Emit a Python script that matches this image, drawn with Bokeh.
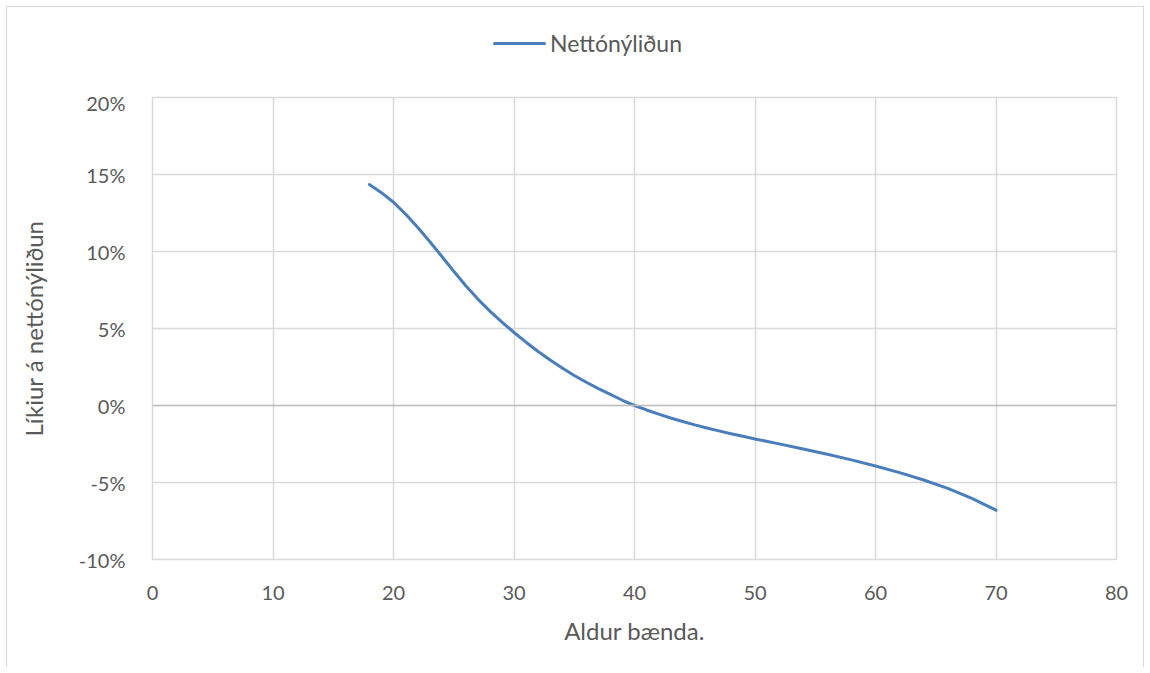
from bokeh.plotting import figure
from bokeh.models import (FixedTicker, NumeralTickFormatter, Span, Range1d, Div)
from bokeh.layouts import column
from bokeh.embed import file_html
from bokeh.resources import INLINE

ages = [18, 19, 20, 21, 22, 23, 24, 25, 26, 27, 28, 29, 30, 31, 32, 33, 34, 35, 36, 37,
        38, 39, 40, 41, 42, 43, 44, 45, 46, 47, 48, 49, 50, 52, 54, 56, 58, 60, 62, 64,
        66, 68, 70]
nettonylidun = [14.35, 13.82, 13.2, 12.43, 11.57, 10.65, 9.69, 8.72, 7.78, 6.91, 6.13,
                5.42, 4.74, 4.11, 3.51, 2.95, 2.43, 1.95, 1.51, 1.1, 0.72, 0.34, 0.0,
                -0.29, -0.56, -0.81, -1.04, -1.26, -1.46, -1.65, -1.83, -2.0, -2.17,
                -2.49, -2.82, -3.16, -3.53, -3.93, -4.36, -4.84, -5.38, -6.03, -6.8]
x_ticks = [0, 10, 20, 30, 40, 50, 60, 70, 80]
y_ticks = [-0.10, -0.05, 0.0, 0.05, 0.10, 0.15, 0.20]

series_name = "Nettónýliðun"
x_title = "Aldur bænda."
y_title = "Líkiur á nettónýliðun"

FONT = "Lato"
TXT = "#595959"
GRID = "#d9d9d9"
LINE = "#4a7ebb"

p = figure(width=1136, height=577, output_backend="svg", toolbar_location=None,
           x_range=Range1d(0, 80), y_range=Range1d(-0.10, 0.20),
           min_border_left=145, min_border_right=27, min_border_top=7,
           min_border_bottom=108, margin=0)

yvals = [v / 100 for v in nettonylidun]
r = p.line(ages, yvals, line_color=LINE, line_width=3, line_cap="round", line_join="round")

p.xaxis.ticker = FixedTicker(ticks=x_ticks)
p.yaxis.ticker = FixedTicker(ticks=y_ticks)
p.yaxis.formatter = NumeralTickFormatter(format="0%")

for ax in (p.xaxis[0], p.yaxis[0]):
    ax.axis_line_color = None
    ax.major_tick_line_color = None
    ax.minor_tick_line_color = None
    ax.major_label_text_font = FONT
    ax.major_label_text_font_size = "20px"
    ax.major_label_text_color = TXT
    ax.axis_label_text_font = FONT
    ax.axis_label_text_font_size = "24px"
    ax.axis_label_text_color = TXT
    ax.axis_label_text_font_style = "normal"

p.xaxis.axis_label = x_title
p.yaxis.axis_label = y_title
p.xaxis.major_label_standoff = 20
p.yaxis.major_label_standoff = 21
p.xaxis.axis_label_standoff = 13
p.yaxis.axis_label_standoff = 28

p.xgrid.grid_line_color = GRID
p.ygrid.grid_line_color = GRID
p.xgrid.grid_line_width = 1.5
p.ygrid.grid_line_width = 1.5
p.outline_line_color = GRID
p.outline_line_width = 1.5

p.add_layout(Span(location=0, dimension="width", line_color="#bfbfbf", line_width=1.5))
p.renderers.remove(r)
p.renderers.append(r)

legend_html = (
    '<div style="position:relative;width:1136px;height:83px;margin:0;padding:0;">'
    f'<div style="position:absolute;left:486px;top:35px;width:53px;height:3px;'
    f'background:{LINE};border-radius:1.5px;"></div>'
    f'<div style="position:absolute;left:543px;top:25px;font-family:{FONT};'
    f'font-size:23px;line-height:23px;color:{TXT};white-space:nowrap;">{series_name}</div>'
    '</div>'
)
legend_div = Div(text=legend_html, width=1136, height=83, margin=0)

layout = column(legend_div, p, spacing=0, margin=(6, 0, 0, 6),
                styles={"border": f"1px solid {GRID}", "border-bottom": "none",
                        "background": "white"})

open("out.html", "w").write(file_html(layout, INLINE))
